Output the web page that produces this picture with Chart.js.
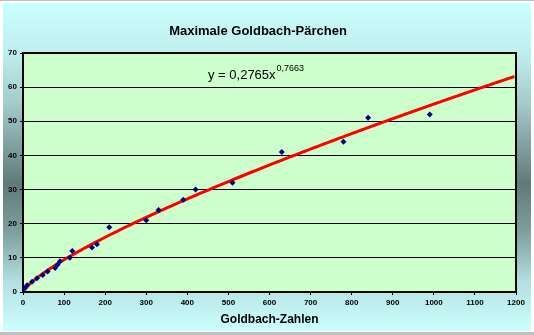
<!DOCTYPE html>
<html>
<head>
<meta charset="utf-8">
<title>Maximale Goldbach-Pärchen</title>
<script src="https://cdn.jsdelivr.net/npm/chart.js@4/dist/chart.umd.min.js"></script>
<style>
    html, body { margin: 0; padding: 0; background: #ffffff; overflow: hidden; }
    #goldbachChart { display: block; }
</style>
</head>
<body>
<canvas id="goldbachChart" width="534" height="335"></canvas>
<script>
// Goldbach numbers with a new record count of prime pairs p + q = n
const goldbachZahlen = [4, 10, 22, 34, 48, 60, 78, 84, 90, 114, 120, 168, 180, 210, 300, 330, 390, 420, 510, 630, 780, 840, 990];
const paerchen       = [1, 2, 3, 4, 5, 6, 7, 8, 9, 10, 12, 13, 14, 19, 21, 24, 27, 30, 32, 41, 44, 51, 52];

// power trend line y = a * x^b (coefficients as printed on the chart)
const TREND_A = 0.2765;
const TREND_B = 0.7663;
const trendX = [];
for (let x = 2; x <= 1200; x += 6) trendX.push(x);

const xTicks = [0, 100, 200, 300, 400, 500, 600, 700, 800, 900, 1000, 1100, 1200];
const yTicks = [0, 10, 20, 30, 40, 50, 60, 70];

const points = goldbachZahlen.map((x, i) => ({ x: x, y: paerchen[i] }));
const trend = trendX.map(x => ({ x: x, y: TREND_A * Math.pow(x, TREND_B) }));

const tickFont = { family: 'Liberation Sans, Arial, sans-serif', size: 8, weight: 'bold' };

// page frame, gradient background and plot area fill
const backgroundPlugin = {
    id: 'backgroundPlugin',
    beforeDraw(chart) {
        const ctx = chart.ctx;
        const w = chart.width, h = chart.height;
        ctx.save();
        ctx.fillStyle = '#ffffff';
        ctx.fillRect(0, 0, w, h);
        ctx.fillStyle = '#c0c0c0';
        ctx.fillRect(0, 0, w, 1);
        ctx.fillRect(0, h - 3, w, 3);

        const g = ctx.createLinearGradient(0, 3, 0, 331);
        g.addColorStop(0.00, '#ccffff');
        g.addColorStop(0.15, '#bfeeee');
        g.addColorStop(0.30, '#a6cccc');
        g.addColorStop(0.45, '#7c9c9c');
        g.addColorStop(0.55, '#5e7a7a');
        g.addColorStop(0.70, '#7fa0a0');
        g.addColorStop(0.85, '#b3e0e0');
        g.addColorStop(1.00, '#ccffff');
        ctx.fillStyle = g;
        ctx.fillRect(3, 3, w - 6, 328);

        const a = chart.chartArea;
        ctx.fillStyle = '#ccffcc';
        ctx.fillRect(a.left, a.top, a.right - a.left, a.bottom - a.top);
        ctx.restore();
    },
    beforeDatasetsDraw(chart) {
        const ctx = chart.ctx;
        const a = chart.chartArea;
        ctx.save();
        ctx.strokeStyle = '#000000';
        ctx.lineWidth = 2;
        ctx.beginPath();
        ctx.moveTo(a.left, a.top);
        ctx.lineTo(a.right, a.top);
        ctx.lineTo(a.right, a.bottom);
        ctx.stroke();
        ctx.restore();
    },
    afterDatasetsDraw(chart) {
        // trend line equation
        const ctx = chart.ctx;
        const a = chart.chartArea;
        const main = 'y = 0,2765x';
        const sup = '0,7663';
        ctx.save();
        ctx.fillStyle = '#000000';
        ctx.textBaseline = 'alphabetic';
        ctx.font = '13px Liberation Sans, Arial, sans-serif';
        const x0 = a.left + 185;
        ctx.fillText(main, x0, a.top + 26);
        const mw = ctx.measureText(main).width;
        ctx.font = '9px Liberation Sans, Arial, sans-serif';
        ctx.fillText(sup, x0 + mw + 1, a.top + 18);
        ctx.restore();
    }
};

new Chart(document.getElementById('goldbachChart'), {
    type: 'scatter',
    data: {
        datasets: [
            {
                label: 'Goldbach-Pärchen',
                data: points,
                pointStyle: 'rectRot',
                pointRadius: 3,
                pointHoverRadius: 3,
                backgroundColor: '#000080',
                borderColor: '#000080',
                borderWidth: 0,
                showLine: false,
                order: 0
            },
            {
                label: 'Trend',
                data: trend,
                showLine: true,
                borderColor: '#ff0000',
                borderWidth: 3,
                pointRadius: 0,
                tension: 0,
                fill: false,
                order: 1
            }
        ]
    },
    options: {
        responsive: false,
        animation: false,
        devicePixelRatio: 1,
        layout: { padding: { left: 0, right: 18, top: 0, bottom: 0 } },
        plugins: {
            legend: { display: false },
            tooltip: { enabled: false },
            title: {
                display: true,
                text: 'Maximale Goldbach-Pärchen',
                color: '#000000',
                font: { family: 'Liberation Sans, Arial, sans-serif', size: 13, weight: 'bold' },
                padding: { top: 24, bottom: 13.4 }
            }
        },
        scales: {
            x: {
                type: 'linear',
                min: 0,
                max: 1200,
                afterBuildTicks(scale) {
                    scale.ticks = xTicks.map(v => ({ value: v }));
                },
                afterFit(scale) { scale.height = 43; },
                grid: { drawOnChartArea: false, color: '#000000', lineWidth: 1, tickLength: 3 },
                border: { display: true, color: '#000000', width: 2 },
                ticks: {
                    color: '#000000', font: tickFont, padding: 3, maxRotation: 0, autoSkip: false,
                    callback: v => String(v)
                },
                title: {
                    display: true,
                    text: 'Goldbach-Zahlen',
                    color: '#000000',
                    font: { family: 'Liberation Sans, Arial, sans-serif', size: 12, weight: 'bold' },
                    padding: { top: 0, bottom: 8 }
                }
            },
            y: {
                type: 'linear',
                min: 0,
                max: 70,
                afterBuildTicks(scale) {
                    scale.ticks = yTicks.map(v => ({ value: v }));
                },
                afterFit(scale) { scale.width = 23; },
                grid: { color: '#000000', lineWidth: 1, tickLength: 3 },
                border: { display: true, color: '#000000', width: 2 },
                ticks: { color: '#000000', font: tickFont, padding: 3, autoSkip: false, callback: v => String(v) }
            }
        }
    },
    plugins: [backgroundPlugin]
});
</script>
</body>
</html>
